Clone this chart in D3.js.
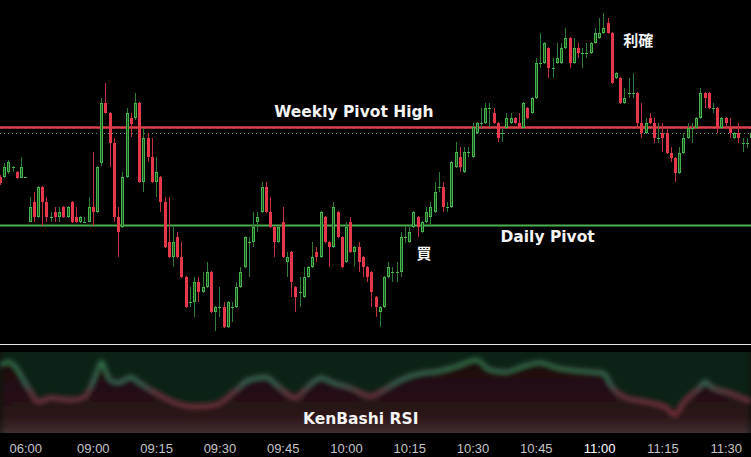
<!DOCTYPE html>
<html>
<head>
<meta charset="utf-8">
<script src="https://cdn.jsdelivr.net/npm/d3@7"></script>
<style>
  body { margin: 0; background: #000; overflow: hidden; }
</style>
</head>
<body>
<script>
const w = 751;
const h = 457;

// one-minute candles, left to right
const open = [
  110.823,110.823,110.828,110.833,110.828,110.822,110.823,110.778,110.798,110.783,
  110.813,110.798,110.783,110.788,110.783,110.793,110.783,110.798,110.783,110.778,
  110.778,110.778,110.793,110.788,110.837,110.897,110.887,110.857,110.783,110.773,
  110.823,110.882,110.882,110.897,110.818,110.862,110.843,110.818,110.823,110.798,
  110.758,110.743,110.763,110.743,110.723,110.698,110.698,110.718,110.708,110.713,
  110.728,110.688,110.693,110.693,110.673,110.693,110.693,110.713,110.733,110.758,
  110.758,110.778,110.788,110.813,110.788,110.773,110.758,110.778,110.738,110.748,
  110.713,110.708,110.703,110.723,110.733,110.748,110.743,110.783,110.758,110.753,
  110.788,110.763,110.738,110.778,110.748,110.753,110.743,110.733,110.728,110.703,
  110.688,110.693,110.723,110.728,110.728,110.728,110.763,110.758,110.773,110.783,
  110.768,110.778,110.783,110.788,110.813,110.813,110.793,110.793,110.833,110.843,
  110.828,110.848,110.843,110.867,110.877,110.877,110.892,110.887,110.877,110.867,
  110.872,110.877,110.882,110.877,110.872,110.892,110.887,110.902,110.937,110.937,
  110.952,110.932,110.937,110.937,110.952,110.962,110.937,110.952,110.947,110.947,
  110.947,110.957,110.962,110.967,110.977,110.967,110.922,110.922,110.897,110.907,
  110.907,110.907,110.877,110.867,110.882,110.877,110.862,110.867,110.867,110.847,
  110.842,110.827,110.847,110.862,110.872,110.872,110.882,110.907,110.907,110.892,
  110.892,110.872,110.882,110.872,110.862,110.867,110.857,110.857,110.862
];
const high = [
  110.825,110.837,110.840,110.834,110.829,110.843,110.823,110.803,110.808,110.814,
  110.814,110.803,110.788,110.793,110.793,110.794,110.794,110.799,110.793,110.784,
  110.783,110.803,110.848,110.834,110.902,110.917,110.888,110.862,110.793,110.828,
  110.892,110.887,110.907,110.898,110.872,110.867,110.862,110.843,110.824,110.803,
  110.803,110.773,110.768,110.758,110.724,110.713,110.723,110.723,110.728,110.738,
  110.729,110.694,110.713,110.698,110.699,110.698,110.718,110.733,110.764,110.763,
  110.788,110.788,110.818,110.818,110.803,110.774,110.774,110.793,110.748,110.749,
  110.714,110.723,110.733,110.734,110.758,110.753,110.789,110.784,110.759,110.798,
  110.789,110.764,110.778,110.783,110.754,110.758,110.744,110.734,110.729,110.704,
  110.694,110.724,110.738,110.733,110.738,110.768,110.773,110.773,110.789,110.784,
  110.779,110.793,110.798,110.818,110.828,110.818,110.798,110.839,110.858,110.853,
  110.853,110.853,110.877,110.878,110.892,110.897,110.897,110.892,110.878,110.872,
  110.887,110.887,110.883,110.887,110.898,110.893,110.903,110.942,110.967,110.958,
  110.953,110.942,110.957,110.957,110.972,110.963,110.962,110.957,110.952,110.957,
  110.958,110.972,110.982,110.987,110.982,110.968,110.928,110.923,110.912,110.922,
  110.927,110.908,110.897,110.882,110.887,110.882,110.877,110.877,110.872,110.853,
  110.843,110.853,110.867,110.877,110.877,110.883,110.912,110.908,110.908,110.897,
  110.893,110.883,110.883,110.882,110.868,110.877,110.862,110.862,110.868
];
const low = [
  110.815,110.822,110.826,110.828,110.821,110.822,110.822,110.778,110.778,110.782,
  110.774,110.778,110.778,110.778,110.778,110.782,110.782,110.777,110.777,110.777,
  110.778,110.778,110.774,110.787,110.834,110.886,110.833,110.778,110.743,110.772,
  110.822,110.863,110.880,110.817,110.808,110.838,110.817,110.803,110.788,110.752,
  110.742,110.733,110.742,110.722,110.692,110.693,110.683,110.698,110.707,110.712,
  110.687,110.669,110.683,110.672,110.672,110.678,110.692,110.712,110.732,110.723,
  110.753,110.768,110.787,110.787,110.772,110.743,110.757,110.742,110.723,110.703,
  110.688,110.693,110.702,110.722,110.732,110.738,110.742,110.757,110.733,110.752,
  110.762,110.732,110.737,110.747,110.733,110.728,110.723,110.718,110.693,110.683,
  110.673,110.692,110.722,110.718,110.718,110.723,110.757,110.757,110.772,110.763,
  110.767,110.777,110.773,110.787,110.808,110.788,110.788,110.792,110.832,110.828,
  110.827,110.843,110.842,110.866,110.872,110.876,110.873,110.876,110.858,110.858,
  110.871,110.876,110.876,110.871,110.871,110.881,110.886,110.901,110.932,110.936,
  110.922,110.922,110.936,110.936,110.951,110.932,110.936,110.942,110.932,110.942,
  110.946,110.956,110.961,110.966,110.966,110.916,110.921,110.896,110.896,110.902,
  110.902,110.872,110.862,110.866,110.876,110.857,110.857,110.848,110.846,110.838,
  110.818,110.826,110.846,110.861,110.857,110.871,110.881,110.892,110.891,110.887,
  110.867,110.871,110.872,110.862,110.861,110.857,110.848,110.852,110.861
];
const close = [
  110.817,110.833,110.838,110.833,110.822,110.833,110.823,110.793,110.783,110.813,
  110.798,110.783,110.783,110.783,110.788,110.783,110.793,110.778,110.778,110.783,
  110.778,110.793,110.788,110.833,110.897,110.887,110.857,110.783,110.768,110.823,
  110.887,110.876,110.897,110.818,110.862,110.843,110.818,110.828,110.798,110.753,
  110.743,110.758,110.743,110.723,110.693,110.698,110.718,110.708,110.713,110.728,
  110.688,110.693,110.693,110.673,110.698,110.693,110.713,110.728,110.763,110.758,
  110.773,110.783,110.813,110.788,110.773,110.758,110.773,110.743,110.743,110.718,
  110.703,110.708,110.723,110.733,110.743,110.743,110.788,110.758,110.753,110.793,
  110.763,110.733,110.773,110.748,110.753,110.738,110.733,110.723,110.708,110.693,
  110.693,110.723,110.733,110.728,110.728,110.763,110.763,110.768,110.788,110.773,
  110.778,110.788,110.793,110.808,110.813,110.793,110.793,110.838,110.848,110.833,
  110.848,110.848,110.873,110.877,110.877,110.892,110.892,110.877,110.862,110.867,
  110.882,110.882,110.877,110.872,110.897,110.882,110.902,110.937,110.937,110.957,
  110.932,110.932,110.942,110.952,110.962,110.937,110.952,110.947,110.947,110.947,
  110.957,110.967,110.967,110.972,110.967,110.917,110.927,110.897,110.902,110.907,
  110.907,110.877,110.867,110.877,110.877,110.862,110.862,110.862,110.847,110.842,
  110.827,110.847,110.862,110.872,110.872,110.882,110.907,110.902,110.892,110.892,
  110.872,110.882,110.877,110.867,110.867,110.862,110.857,110.857,110.867
];

// horizontal levels
const weeklyPivotHigh = 110.8725;
const weeklyGuide = 110.867;
const dailyPivot = 110.7745;

// KenBashi RSI, sampled at candle index
const rsiIdx = [0,2,7,9,12,17,20,23,24,26,28,31,33,37,41,46,51,56,59,63,66,70,73,76,79,83,88,89,91,95,
  100,103,108,113,116,120,123,128,132,135,140,143,145,148,153,158,160,162,166,167,169,173,177,178];
const rsiVal = [81,85,50,35,40,37.5,41,72.5,85,62.5,59,66,59,46,35,29,31,50,62.5,66,54,40,54,65,59,52.5,42,44,50,62.5,
  71,72.5,79,87.5,75,72.5,77.5,84,77.5,75,72.5,71,54,41,35,27.5,19,34,54,60,52.5,46,37.5,36];

// time axis
const tickIdx = [6,22,37,52,67,82,97,112,127,142,157,172];
const tickLabels = ['06:00','09:00','09:15','09:30','09:45','10:00','10:15','10:30','10:45','11:00','11:15','11:30'];

// text notes: [text, candle index, price]
const notes = [
  ['Weekly Pivot High', 83.9, 110.883],
  ['Daily Pivot', 129.8, 110.758],
  ['買', 100.5, 110.741],
  ['利確', 151.3, 110.954]
];

const svg = d3.select('body')
  .append('svg')
  .attr('width', w)
  .attr('height', h)
  .style('display', 'block')
  .style('background', '#000');

const x = d3.scaleLinear().domain([0, 178]).range([0, 751]);
const y = d3.scaleLinear().domain([111, 110.66]).range([0, 340]);
const rsiY = d3.scaleLinear().domain([0, 100]).range([430, 350]);

const defs = svg.append('defs');
defs.append('clipPath').attr('id', 'rsiClip')
  .append('rect').attr('x', 0).attr('y', 352).attr('width', w).attr('height', 81);
defs.append('filter').attr('id', 'blurBig')
  .attr('x', '-10%').attr('y', '-50%').attr('width', '120%').attr('height', '200%')
  .append('feGaussianBlur').attr('stdDeviation', 5);
defs.append('filter').attr('id', 'blurLine')
  .attr('x', '-10%').attr('y', '-50%').attr('width', '120%').attr('height', '200%')
  .append('feGaussianBlur').attr('stdDeviation', 2.4);

const lineGrad = defs.append('linearGradient').attr('id', 'rsiLineGrad')
  .attr('gradientUnits', 'userSpaceOnUse')
  .attr('x1', 0).attr('x2', 0).attr('y1', 358).attr('y2', 415);
lineGrad.append('stop').attr('offset', '0%').attr('stop-color', '#2f7446');
lineGrad.append('stop').attr('offset', '45%').attr('stop-color', '#3a6a58');
lineGrad.append('stop').attr('offset', '62%').attr('stop-color', '#6e3845');
lineGrad.append('stop').attr('offset', '100%').attr('stop-color', '#7e2c3a');

const bottomGrad = defs.append('linearGradient').attr('id', 'rsiBottomGrad')
  .attr('x1', 0).attr('x2', 0).attr('y1', 0).attr('y2', 1);
bottomGrad.append('stop').attr('offset', '0%').attr('stop-color', '#1d0c0f');
bottomGrad.append('stop').attr('offset', '70%').attr('stop-color', '#2a1316');
bottomGrad.append('stop').attr('offset', '90%').attr('stop-color', '#3e2a2d');
bottomGrad.append('stop').attr('offset', '100%').attr('stop-color', '#5a4a4c');

// RSI panel
const rsiData = rsiIdx.map((d, k) => ({ i: d, v: rsiVal[k] }));
const rsiOuter = svg.append('g').attr('clip-path', 'url(#rsiClip)');
rsiOuter.append('rect')
  .attr('x', 0).attr('y', 352).attr('width', w).attr('height', 81)
  .attr('fill', '#08110a');

const rsiBlur = rsiOuter.append('g').attr('filter', 'url(#blurBig)');
rsiBlur.append('path')
  .datum(rsiData)
  .attr('fill', '#0d2013')
  .attr('d', d3.area()
    .x(d => x(d.i))
    .y0(344)
    .y1(d => rsiY(d.v))
    .curve(d3.curveMonotoneX));
rsiBlur.append('path')
  .datum(rsiData)
  .attr('fill', 'url(#rsiBottomGrad)')
  .attr('d', d3.area()
    .x(d => x(d.i))
    .y0(440)
    .y1(d => rsiY(d.v))
    .curve(d3.curveMonotoneX));

rsiOuter.append('path')
  .datum(rsiData)
  .attr('fill', 'none')
  .attr('stroke', 'url(#rsiLineGrad)')
  .attr('stroke-width', 4.5)
  .attr('filter', 'url(#blurLine)')
  .attr('d', d3.line()
    .x(d => x(d.i))
    .y(d => rsiY(d.v))
    .curve(d3.curveMonotoneX));

// separator between price and RSI panes
svg.append('line')
  .attr('x1', 0).attr('x2', w)
  .attr('y1', 344.5).attr('y2', 344.5)
  .attr('stroke', '#e8e8e8')
  .attr('stroke-width', 1);

// pivot levels
svg.append('line')
  .attr('x1', 0).attr('x2', w)
  .attr('y1', y(weeklyPivotHigh)).attr('y2', y(weeklyPivotHigh))
  .attr('stroke', '#e0404c')
  .attr('stroke-width', 2.5);
svg.append('line')
  .attr('x1', 0).attr('x2', w)
  .attr('y1', y(weeklyGuide) + 0.5).attr('y2', y(weeklyGuide) + 0.5)
  .attr('stroke', '#5f8f8f')
  .attr('stroke-width', 1)
  .attr('stroke-dasharray', '1,3');
svg.append('line')
  .attr('x1', 0).attr('x2', w)
  .attr('y1', y(dailyPivot)).attr('y2', y(dailyPivot))
  .attr('stroke', '#4caf50')
  .attr('stroke-width', 2);

// candles
const candleData = open.map((o, i) => ({ i, o, h: high[i], l: low[i], c: close[i] }));
const up = d => d.c >= d.o;

const candles = svg.append('g')
  .attr('shape-rendering', 'crispEdges')
  .selectAll('g')
  .data(candleData)
  .enter()
  .append('g');

candles.append('line')
  .attr('x1', d => Math.round(x(d.i)) + 0.5)
  .attr('x2', d => Math.round(x(d.i)) + 0.5)
  .attr('y1', d => y(d.h))
  .attr('y2', d => y(d.l))
  .attr('stroke', d => up(d) ? '#2c7a34' : '#c23040');

candles.append('rect')
  .attr('x', d => Math.round(x(d.i)) - 1)
  .attr('width', 3)
  .attr('y', d => y(Math.max(d.o, d.c)))
  .attr('height', d => Math.max(1, Math.abs(y(d.o) - y(d.c))))
  .attr('fill', d => up(d) ? '#45b54c' : '#e5394b');

// dark core of the up candles
candles.filter(d => up(d) && Math.abs(y(d.o) - y(d.c)) > 3)
  .append('rect')
  .attr('x', d => Math.round(x(d.i)))
  .attr('width', 1)
  .attr('y', d => y(Math.max(d.o, d.c)) + 1)
  .attr('height', d => Math.abs(y(d.o) - y(d.c)) - 2)
  .attr('fill', '#1c4f22');

// notes
svg.selectAll('text.note')
  .data(notes)
  .enter()
  .append('text')
  .attr('class', 'note')
  .text(d => d[0])
  .attr('x', d => x(d[1]))
  .attr('y', d => y(d[2]))
  .attr('text-anchor', 'middle')
  .style('font-family', d => /[a-z]/i.test(d[0]) ? '"DejaVu Sans", Verdana, sans-serif' : '"Noto Sans CJK JP", sans-serif')
  .style('font-weight', 'bold')
  .style('font-size', d => /[a-z]/i.test(d[0]) ? '15.5px' : '15px')
  .style('fill', '#f4f4f4');

svg.append('text')
  .text('KenBashi RSI')
  .attr('x', x(85.5))
  .attr('y', 424)
  .attr('text-anchor', 'middle')
  .style('font-family', '"DejaVu Sans", Verdana, sans-serif')
  .style('font-weight', 'bold')
  .style('font-size', '15.5px')
  .style('fill', '#f4f4f4');

// time axis
const axis = d3.axisBottom(x)
  .tickValues(tickIdx)
  .tickFormat((d, k) => tickLabels[k])
  .tickSize(0)
  .tickPadding(0);

svg.append('g')
  .attr('transform', 'translate(0,444)')
  .call(axis)
  .call(g => g.select('.domain').remove())
  .selectAll('text')
  .style('font-family', '"Liberation Sans", Arial, sans-serif')
  .style('font-size', '13px')
  .style('fill', (d, k) => tickLabels[k] === '11:00' ? '#ffffff' : '#c4c4c4');
</script>
</body>
</html>
